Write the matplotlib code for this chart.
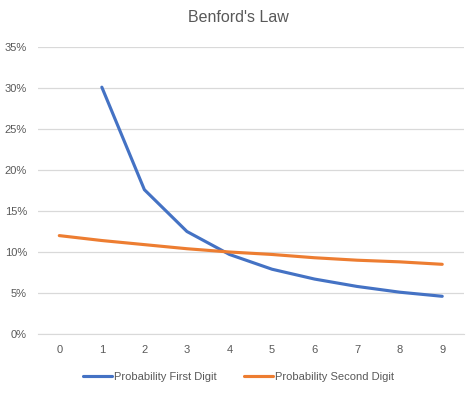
import matplotlib
matplotlib.use("Agg")
import matplotlib.pyplot as plt
from matplotlib.ticker import FuncFormatter

digits = [0, 1, 2, 3, 4, 5, 6, 7, 8, 9]
first_digits = [1, 2, 3, 4, 5, 6, 7, 8, 9]
first_prob = [0.301, 0.176, 0.125, 0.097, 0.079, 0.067, 0.058, 0.051, 0.046]
second_prob = [0.120, 0.114, 0.109, 0.104, 0.100, 0.097, 0.093, 0.090, 0.088, 0.085]
yticks = [0, 0.05, 0.10, 0.15, 0.20, 0.25, 0.30, 0.35]

plt.rcParams['font.family'] = ['Liberation Sans', 'DejaVu Sans']
txt = '#595959'
fig = plt.figure(figsize=(4.77, 3.95), dpi=100)
ax = fig.add_axes([0.0797, 0.1544, 0.8920, 0.7266])

l1, = ax.plot(first_digits, first_prob, color='#4472C4', lw=2.25, solid_capstyle='round',
              label='Probability First Digit', zorder=3)
l2, = ax.plot(digits, second_prob, color='#ED7D31', lw=2.25, solid_capstyle='round',
              label='Probability Second Digit', zorder=3)

ax.set_xlim(-0.5, 9.5)
ax.set_ylim(0, 0.35)
ax.set_yticks(yticks)
ax.set_xticks(digits)
ax.yaxis.set_major_formatter(FuncFormatter(lambda v, p: f"{v*100:.0f}%"))
ax.grid(axis='y', color='#D9D9D9', lw=0.9)
ax.set_axisbelow(True)
for s in ['top', 'right', 'left']:
    ax.spines[s].set_visible(False)
ax.spines['bottom'].set_color('#D9D9D9')
ax.tick_params(axis='both', length=0, colors=txt, labelsize=8)
ax.tick_params(axis='y', pad=8)
ax.tick_params(axis='x', pad=8)

fig.text(0.5, 0.955, "Benford's Law", ha='center', va='center', fontsize=11.5, color=txt)
fig.legend(handles=[l1, l2], loc='center', bbox_to_anchor=(0.5, 0.045), ncol=2, frameon=False,
           fontsize=8, labelcolor=txt, handlelength=2.6, handletextpad=0.2, columnspacing=2.5)

fig.savefig('out.png', dpi=100)
